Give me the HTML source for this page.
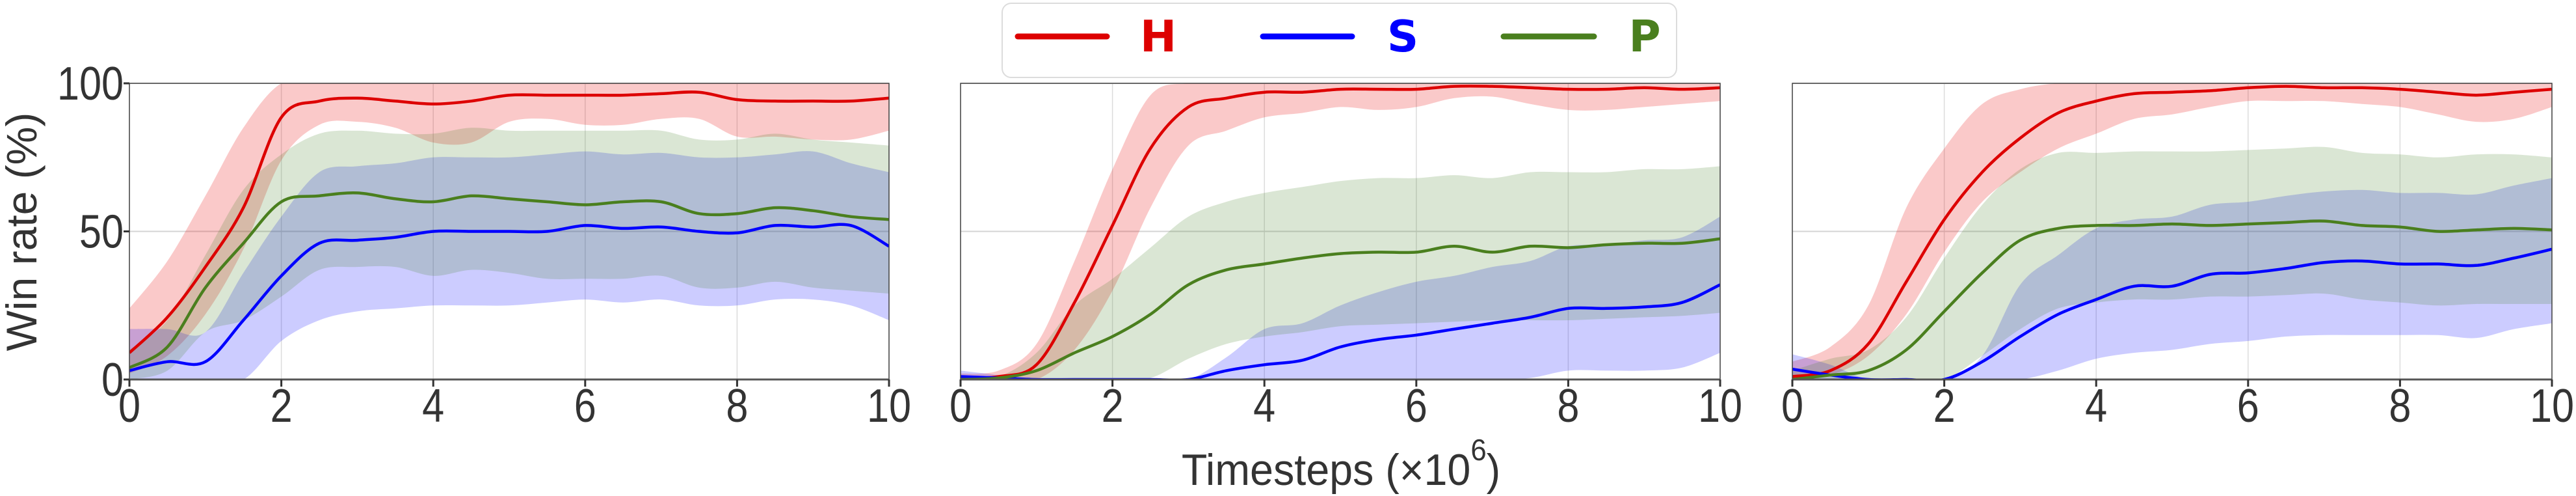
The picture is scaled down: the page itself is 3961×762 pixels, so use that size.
<!DOCTYPE html>
<html><head><meta charset="utf-8">
<style>
html,body{margin:0;padding:0;background:#fff;}
svg{display:block;}
</style></head>
<body>
<svg id="chart" xmlns="http://www.w3.org/2000/svg" width="3961" height="762" viewBox="0 0 3961 762">
  <g id="legend">
    <rect x="1541" y="5" width="1037" height="114" rx="14" fill="#fff" stroke="#dcdcdc" stroke-width="2"/>
    <g>
      <line x1="1565" y1="56" x2="1702" y2="56" stroke="#dd0000" stroke-width="9" stroke-linecap="round"/>
      <text x="1781" y="79" text-anchor="middle" font-family="DejaVu Sans, Liberation Sans, sans-serif" font-weight="bold" font-size="67" fill="#dd0000">H</text>
    </g>
    <g>
      <line x1="1942" y1="56" x2="2079" y2="56" stroke="#0000ff" stroke-width="9" stroke-linecap="round"/>
      <text x="2157" y="79" text-anchor="middle" font-family="DejaVu Sans, Liberation Sans, sans-serif" font-weight="bold" font-size="67" fill="#0000ff">S</text>
    </g>
    <g>
      <line x1="2312" y1="56" x2="2451" y2="56" stroke="#4a7f1e" stroke-width="9" stroke-linecap="round"/>
      <text x="2529" y="79" text-anchor="middle" font-family="DejaVu Sans, Liberation Sans, sans-serif" font-weight="bold" font-size="67" fill="#4a7f1e">P</text>
    </g>
  </g>
  <text transform="translate(56,356) rotate(-90)" text-anchor="middle" font-family="Liberation Sans, sans-serif" font-size="66" fill="#333">Win rate (%)</text>
  <text transform="translate(2062,745) scale(0.95,1)" text-anchor="middle" font-family="Liberation Sans, sans-serif" font-size="68" fill="#333">Timesteps (×10<tspan dy="-38" font-size="46">6</tspan><tspan dy="38">)</tspan></text>
</svg>
<script>
// ---- data ----
const steps = [0,0.5,1,1.5,2,2.5,3,3.5,4,4.5,5,5.5,6,6.5,7,7.5,8,8.5,9,9.5,10];
const xTicks = [0,2,4,6,8,10];
const yTicks = [0,50,100];
const yTickLabels = ["0","50","100"];
const seriesNames = ["H","S","P"];

// panel 1
const p1HMean = [9,21,38,58,88.5,94,95,94,93,94,96,96,96,96,96.5,97,94.5,94,94,94,95];
const p1HUp   = [24,40,62,85,100,100,100,100,100,100,100,100,100,100,100,100,100,100,100,100,100];
const p1HLow  = [2,8,22,44,74,86,87,85,80,80,87,88,86,86,88,88,82,82,81,81,84];
const p1SMean = [3,6,6,20,35,46,47,48,50,50,50,50,52,51,51.5,50,49.5,52,51.5,52,45];
const p1SUp   = [17,17,16,36,55,70,72,73,75,75,75,76,77,76,76.5,75,75,76,77,73,70];
const p1SLow  = [0,0,0,0,13,20,23,24,25,25,25,26,27,26,27,25,25,27,27,25,20];
const p1PMean = [4,11,31,46,60,62,63,61,60,62,61,60,59,60,60,56,56,58,57,55,54];
const p1PUp   = [10,20,42,64,76,83,84,83,83,85,84,84,84,84,84,81,81,83,81,80,79];
const p1PLow  = [0,3,16,20,28,37,38,38,35,37,36,34,34,34,35,31,31,33,31,30,29];

// panel 2
const p2HMean = [0.5,1,5,26,52,78,92,95,97,97,98,98,98,99,99,98.5,98,98,98.5,98,98.5];
const p2HUp   = [2,3,12,40,71,96,100,100,100,100,100,100,100,100,100,100,100,100,100,100,100];
const p2HLow  = [0,0,0,10,30,58,79,84,88.5,90,92,91,92,95,95.5,93,91,91,92,93,94];
const p2SMean = [1,0.5,0,0,0,0,0,3,5,6.5,11,13.5,15,17,19,21,24,24,24.5,26,32];
const p2SUp   = [3,1.5,0,0,0,0,0,7.5,17,19,25,29.5,33,35,38,40,45,45.5,47,48,55];
const p2SLow  = [0,0,0,0,0,0,0,0,0,0,0,0,0,0,0,0.5,3,3,3,4,9];
const p2PMean = [0,0.5,3,9,14.5,22,32,37,39,41,42.5,43,43,45,43,45,44.5,45.5,46,46,47.5];
const p2PUp   = [0.5,1,9,25,34,44.5,55,60,63,65,67,68,68,69,68,70,70,70,71,71,72];
const p2PLow  = [0,0,0,0,0,0.5,7,12,14.5,16,18,18.5,19,19.5,20,20,20,20.5,21,21.5,22.5];

// panel 3
const p3HMean = [1,3,12,33,54,70,81.5,90,94,96.5,97,97.5,98.5,99,98.5,98.5,98,97,96,97,98];
const p3HUp   = [6,11,25,58,78,93,98,100,100,100,100,100,100,100,100,100,100,100,100,100,100];
const p3HLow  = [0,1.5,8,22,43,60,70,78,83,88,89.5,92,94,94,94,93,92,89.5,87,88,92];
const p3SMean = [3.5,1.5,0,0,0,6,14.5,22,27,31.5,31.5,35.5,36,37.5,39.5,40,39,39,38.5,41,44];
const p3SUp   = [8.5,5,0,0,0,8,32,42,51,54,55,59,60,62,63.5,64,63,63,62.5,65.5,68];
const p3SLow  = [0,0,0,0,0,0,0,3,7,9,10,12,13,14.5,15,15,15,15,14,17,19];
const p3PMean = [0,1.5,3,10,23,36,47,51,52,52,52.5,52,52.5,53,53.5,52,51.5,50,50.5,51,50.5];
const p3PUp   = [3,7,10,21,41,59,71,76.5,76.5,77,77,77,77.5,78,78.5,76.5,76,75,76,76,75];
const p3PLow  = [0,0,0,0,0,8,17,24,26,27,27,28,28,28.5,29,27,26,25,25.5,25.5,25.5];

// ---- layout ----
const svg = document.getElementById('chart');
const NS = 'http://www.w3.org/2000/svg';
const panelLefts = [199, 1477, 2756];
const PW = 1168, PT = 128, PB = 583;
const colors = {H:'#dd0000', S:'#0000ff', P:'#4a7f1e'};
const fills  = {H:'rgba(230,0,0,0.21)', S:'rgba(0,0,255,0.2)', P:'rgba(70,130,40,0.2)'};

function mk(tag, attrs){ const e=document.createElementNS(NS,tag); for(const k in attrs) e.setAttribute(k,attrs[k]); return e; }

const panels = [
  {H:[p1HMean,p1HUp,p1HLow], S:[p1SMean,p1SUp,p1SLow], P:[p1PMean,p1PUp,p1PLow]},
  {H:[p2HMean,p2HUp,p2HLow], S:[p2SMean,p2SUp,p2SLow], P:[p2PMean,p2PUp,p2PLow]},
  {H:[p3HMean,p3HUp,p3HLow], S:[p3SMean,p3SUp,p3SLow], P:[p3PMean,p3PUp,p3PLow]}
];

function smoothPath(pts){
  let d = 'M'+pts[0][0].toFixed(1)+','+pts[0][1].toFixed(1);
  for(let i=0;i<pts.length-1;i++){
    const p0=pts[Math.max(i-1,0)], p1=pts[i], p2=pts[i+1], p3=pts[Math.min(i+2,pts.length-1)];
    const c1x=p1[0]+(p2[0]-p0[0])/6, c1y=p1[1]+(p2[1]-p0[1])/6;
    const c2x=p2[0]-(p3[0]-p1[0])/6, c2y=p2[1]-(p3[1]-p1[1])/6;
    d+=' C'+c1x.toFixed(1)+','+c1y.toFixed(1)+' '+c2x.toFixed(1)+','+c2y.toFixed(1)+' '+p2[0].toFixed(1)+','+p2[1].toFixed(1);
  }
  return d;
}

panels.forEach((pd, pi) => {
  const L = panelLefts[pi];
  const xs = v => L + v/10*PW;
  const ys = v => PB - Math.max(0,Math.min(100,v))/100*(PB-PT);
  const g = mk('g',{});
  
  
  svg.appendChild(g);
  const clipId='clip'+pi;
  const cp = mk('clipPath',{id:clipId}); cp.appendChild(mk('rect',{x:L,y:PT,width:PW,height:PB-PT})); g.appendChild(cp);

  xTicks.forEach(t => {
    const gl = mk('line',{x1:xs(t),x2:xs(t),y1:PT,y2:PB,stroke:'#dcdcdc','stroke-width':1.5});
    
    
    g.appendChild(gl);
  });
  yTicks.forEach(t => {
    const gl = mk('line',{x1:L,x2:L+PW,y1:ys(t),y2:ys(t),stroke:'#d4d4d4','stroke-width':2});
    
    
    g.appendChild(gl);
  });

  const plot = mk('g',{'clip-path':'url(#'+clipId+')'}); g.appendChild(plot);
  ['H','S','P'].forEach(s => {
    const [m,u,l] = pd[s];
    const up = steps.map((x,i)=>[xs(x),ys(u[i])]);
    const lo = steps.map((x,i)=>[xs(x),ys(l[i])]).reverse();
    let d = smoothPath(up) + ' L' + smoothPath(lo).slice(1) + ' Z';
    const band = mk('path',{d:d,fill:fills[s],stroke:'none'});
    
    
    plot.appendChild(band);
  });
  ['H','S','P'].forEach(s => {
    const m = pd[s][0];
    const pts = steps.map((x,i)=>[xs(x),ys(m[i])]);
    const ln = mk('path',{d:smoothPath(pts),fill:'none',stroke:colors[s],'stroke-width':4.5,'stroke-linejoin':'round'});
    
    
    plot.appendChild(ln);
  });

  const fr = mk('rect',{x:L,y:PT,width:PW,height:PB-PT,fill:'none',stroke:'#444','stroke-width':1.5});
  
  
  g.appendChild(fr);
  const bx = mk('line',{x1:L,x2:L+PW,y1:PB,y2:PB,stroke:'#555','stroke-width':3});
  
  
  g.appendChild(bx);

  xTicks.forEach(t => {
    const tk = mk('line',{x1:xs(t),x2:xs(t),y1:PB,y2:PB+11,stroke:'#333','stroke-width':3});
    
    
    g.appendChild(tk);
    const tx = mk('text',{transform:'translate('+xs(t)+',648) scale(0.85,1)','text-anchor':'middle','font-family':'Liberation Sans, sans-serif','font-size':72,fill:'#333'});
    tx.textContent = String(t);
    
    
    g.appendChild(tx);
  });
  if(pi===0){
    yTicks.forEach((t,i) => {
      const tk = mk('line',{x1:L-9,x2:L,y1:ys(t),y2:ys(t),stroke:'#333','stroke-width':3});
      
      
      g.appendChild(tk);
      const tx = mk('text',{transform:'translate('+(L-9)+','+(ys(t)+25)+') scale(0.85,1)','text-anchor':'end','font-family':'Liberation Sans, sans-serif','font-size':72,fill:'#333'});
      tx.textContent = yTickLabels[i];
      
      
      g.appendChild(tx);
    });
  }
});
</script>
</body></html>
